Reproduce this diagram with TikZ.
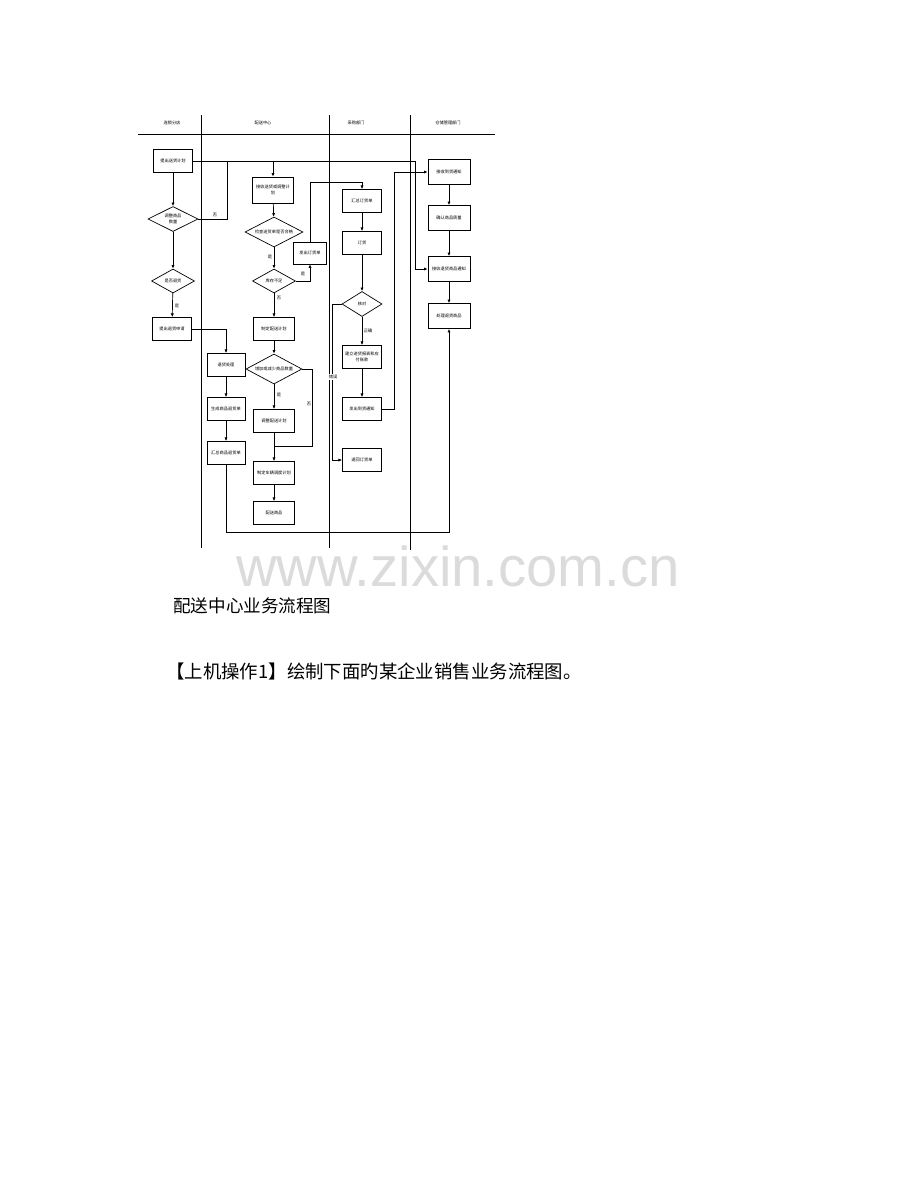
\documentclass[tikz,border=0pt]{standalone}
\usepackage{fontspec}
\setmainfont{Noto Sans CJK SC}
\newfontfamily\wmfont{Liberation Sans}
\usetikzlibrary{shapes.geometric,arrows.meta}

\begin{document}
\begin{tikzpicture}[x=0.25mm, y=-0.25mm,
  proc/.style={draw, rectangle, line width=0.5pt, minimum width=9.8mm, minimum height=5.8mm, inner sep=0.3mm, align=center, font=\fontsize{3}{3.8}\selectfont},
  cond/.style={draw, diamond, aspect=2, line width=0.5pt, inner sep=0pt, align=center, font=\fontsize{3}{3.8}\selectfont},
  lbl/.style={font=\fontsize{3}{3.8}\selectfont, inner sep=0.4pt},
  head/.style={font=\fontsize{3}{3.8}\selectfont},
  flow/.style={line width=0.5pt, -{Latex[length=0.9mm, width=0.8mm]}},
  link/.style={line width=0.5pt},
  lane/.style={line width=0.6pt}]
  \useasboundingbox (0,0) rectangle (920,1191);

  % swim lanes
  \draw[lane] (138,134) -- (495,134);
  \foreach \x/\yb in {201/548, 329/548, 410/550}
    \draw[lane] (\x,115) -- (\x,\yb);
  \node[head] (h1) at (172,123) {连锁分店};
  \node[head] (h2) at (263,123) {配送中心};
  \node[head] (h3) at (356,123) {采购部门};
  \node[head] (h4) at (448,123) {仓储管理部门};

  % chain store
  \node[proc] (a1) at (173,161) {提出送货计划};
  \node[cond, minimum width=12.5mm, minimum height=6.25mm] (a2) at (173,219) {调整商品\\数量};
  \node[cond, minimum width=10.75mm, minimum height=6mm] (a3) at (173,281) {是否退货};
  \node[proc] (a4) at (172,329) {提出退货申请};

  % distribution centre
  \node[proc, minimum width=10.3mm, minimum height=6.5mm] (b1) at (273,190) {接收送货或调整计\\划};
  \node[cond, minimum width=14.5mm, minimum height=7.5mm] (b2) at (274,232) {检查送货单是否合格};
  \node[proc, minimum width=8.3mm, minimum height=5.5mm] (b3) at (310,253) {发出订货单};
  \node[cond, minimum width=10.75mm, minimum height=6mm] (b4) at (274,281) {库存不足};
  \node[proc, minimum width=10.3mm] (b5) at (274,329) {制定配送计划};
  \node[cond, minimum width=14mm, minimum height=7.5mm] (b6) at (274,369) {增加或减少商品数量};
  \node[proc, minimum width=10.3mm] (b7) at (274,421) {调整配送计划};
  \node[proc, minimum width=10.3mm] (b8) at (274,473) {制定车辆调度计划};
  \node[proc, minimum width=10.3mm] (b9) at (274,513) {配送商品};
  \node[proc, minimum width=9.5mm] (c1) at (226,365) {退货处理};
  \node[proc, minimum width=9.5mm] (c2) at (226,409) {生成商品退货单};
  \node[proc, minimum width=9.5mm] (c3) at (226,453) {汇总商品退货单};

  % purchasing
  \node[proc] (e1) at (362,201) {汇总订货单};
  \node[proc] (e2) at (362,243) {订货};
  \node[cond, minimum width=10mm, minimum height=6.25mm] (e3) at (362,304) {核对};
  \node[proc] (e4) at (362,357) {建立进货报表和应\\付账款};
  \node[proc] (e5) at (362,409) {发出到货通知};
  \node[proc] (e6) at (362,460) {退回订货单};

  % warehouse
  \node[proc, minimum width=10.5mm, minimum height=6.25mm] (d1) at (449,172) {接收到货通知};
  \node[proc, minimum width=10.5mm, minimum height=6.25mm] (d2) at (449,218) {确认商品质量};
  \node[proc, minimum width=10.5mm, minimum height=6.25mm] (d3) at (449,269) {接收退货商品通知};
  \node[proc, minimum width=10.5mm, minimum height=6.25mm] (d4) at (449,316) {处理退货商品};

  % connectors
  \coordinate (t1) at (415,161);
  \coordinate (t2) at (226,532);
  \coordinate (t3) at (310,182);
  \coordinate (t4) at (312,446);
  \draw[flow] (a1) -- (a2);
  \draw[flow] (a1.east) -- (t1) |- (d3.west);
  \draw[flow] (b1.north |- a1.east) -- (b1.north);
  \draw[link] (a2.east) -- (227,219) -- (227,161);
  \draw[flow] (a2) -- (a3);
  \draw[flow] (a3) -- (a4);
  \draw[flow] (a4.east) -| (c1.north);
  \draw[flow] (c1) -- (c2);
  \draw[flow] (c2) -- (c3);
  \draw[flow] (c3.south) -- (t2) -| (d4.south);
  \draw[flow] (b1) -- (b2);
  \draw[flow] (b2) -- (b4);
  \draw[flow] (b4.east) -| (b3.south);
  \draw[flow] (b3.north) -- (t3) -| (e1.north);
  \draw[flow] (b4) -- (b5);
  \draw[flow] (b5) -- (b6);
  \draw[flow] (b6) -- (b7);
  \draw[link] (b6.east) -| (t4) -- (b7.south |- t4);
  \draw[flow] (b7) -- (b8);
  \draw[flow] (b8) -- (b9);
  \draw[flow] (e1) -- (e2);
  \draw[flow] (e2) -- (e3);
  \draw[flow] (e3) -- (e4);
  \draw[flow] (e4) -- (e5);
  \draw[flow] (e3.west) -- ++(-9,0) |- (e6.west);
  \draw[flow] (e5.east) -- ++(12,0) |- (d1.west);
  \draw[flow] (d1) -- (d2);
  \draw[flow] (d2) -- (d3);
  \draw[flow] (d3) -- (d4);

  % branch labels
  \node[lbl] (l1) at (215,215) {否};
  \node[lbl] (l2) at (177,306) {是};
  \node[lbl] (l3) at (270,257) {是};
  \node[lbl] (l4) at (303,274) {是};
  \node[lbl] (l5) at (279,298) {否};
  \node[lbl] (l6) at (279,395) {是};
  \node[lbl] (l7) at (309,404) {否};
  \node[lbl] (l8) at (368,331) {正确};
  \node[lbl, fill=white] (l9) at (333,377) {错误};

  % page text
  \node[text=black!14, font=\wmfont\fontsize{40}{40}\selectfont] (wm) at (458,566) {www.zixin.com.cn};
  \node[anchor=west, inner sep=0pt, font=\fontsize{12.5}{14}\selectfont] (cap) at (173,606) {配送中心业务流程图};
  \node[anchor=west, inner sep=0pt, font=\fontsize{13.1}{15}\selectfont] (task) at (166,671) {【上机操作1】绘制下面旳某企业销售业务流程图。};
\end{tikzpicture}
\end{document}
